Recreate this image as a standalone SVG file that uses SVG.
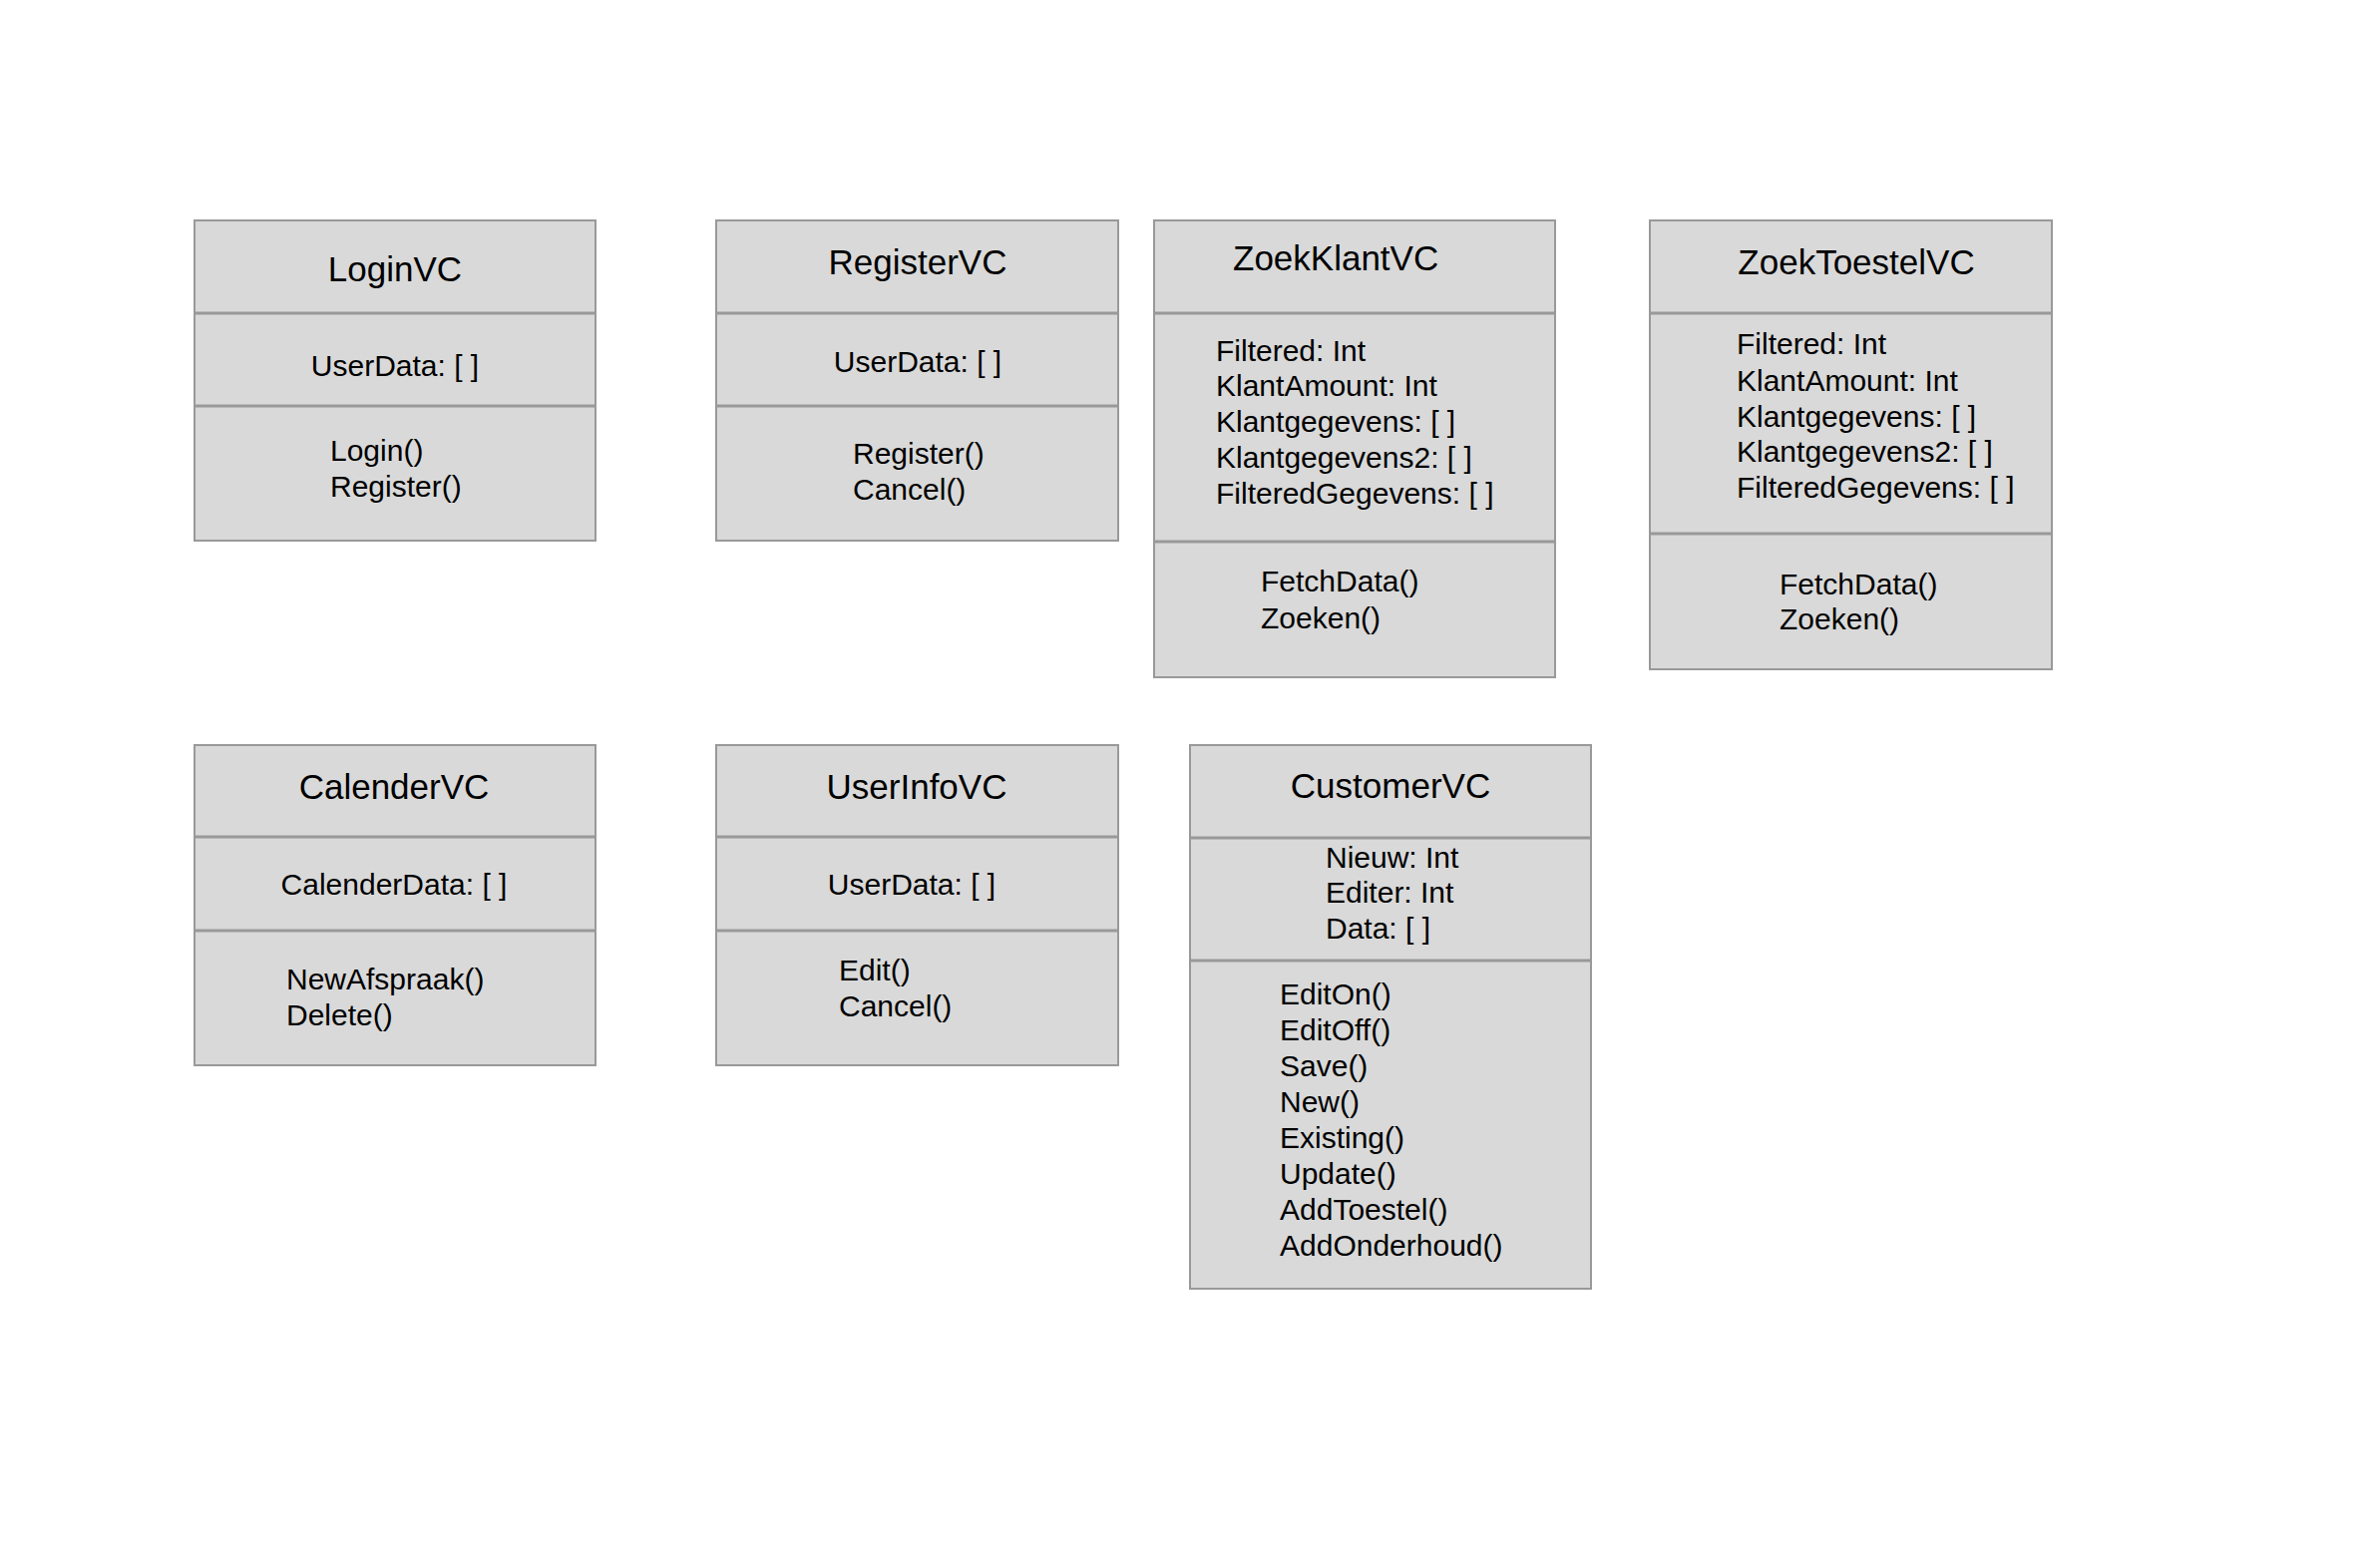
<svg xmlns="http://www.w3.org/2000/svg" width="2386" height="1564" viewBox="0 0 2386 1564">
<style>
.box{fill:#d9d9d9;stroke:#999999;stroke-width:2}
.div{stroke:#999999;stroke-width:3}
.t{font-family:"Liberation Sans",Arial,Helvetica,sans-serif;font-size:35px;fill:#000}
.b{font-family:"Liberation Sans",Arial,Helvetica,sans-serif;font-size:30px;fill:#000}
.c{text-anchor:middle}
</style>
<rect width="2386" height="1564" fill="#ffffff"/>
<g id="connectors"/>
<g id="LoginVC">
<rect class="box" x="195" y="221" width="402" height="321"/>
<line class="div" x1="195" y1="314" x2="597" y2="314"/>
<line class="div" x1="195" y1="407" x2="597" y2="407"/>
<text class="t c" x="396" y="282">LoginVC</text>
<text class="b c" x="396" y="377">UserData: [ ]</text>
<text class="b" x="331" y="462">Login()</text>
<text class="b" x="331" y="498">Register()</text>
</g>
<g id="RegisterVC">
<rect class="box" x="718" y="221" width="403" height="321"/>
<line class="div" x1="718" y1="314" x2="1121" y2="314"/>
<line class="div" x1="718" y1="407" x2="1121" y2="407"/>
<text class="t c" x="920" y="275">RegisterVC</text>
<text class="b c" x="920" y="373">UserData: [ ]</text>
<text class="b" x="855" y="465">Register()</text>
<text class="b" x="855" y="501">Cancel()</text>
</g>
<g id="ZoekKlantVC">
<rect class="box" x="1157" y="221" width="402" height="458"/>
<line class="div" x1="1157" y1="314" x2="1559" y2="314"/>
<line class="div" x1="1157" y1="543" x2="1559" y2="543"/>
<text class="t" x="1236" y="271">ZoekKlantVC</text>
<text class="b" x="1219" y="362">Filtered: Int</text>
<text class="b" x="1219" y="397">KlantAmount: Int</text>
<text class="b" x="1219" y="433">Klantgegevens: [ ]</text>
<text class="b" x="1219" y="469">Klantgegevens2: [ ]</text>
<text class="b" x="1219" y="505">FilteredGegevens: [ ]</text>
<text class="b" x="1264" y="593">FetchData()</text>
<text class="b" x="1264" y="630">Zoeken()</text>
</g>
<g id="ZoekToestelVC">
<rect class="box" x="1654" y="221" width="403" height="450"/>
<line class="div" x1="1654" y1="314" x2="2057" y2="314"/>
<line class="div" x1="1654" y1="535" x2="2057" y2="535"/>
<text class="t c" x="1861" y="275">ZoekToestelVC</text>
<text class="b" x="1741" y="355">Filtered: Int</text>
<text class="b" x="1741" y="392">KlantAmount: Int</text>
<text class="b" x="1741" y="428">Klantgegevens: [ ]</text>
<text class="b" x="1741" y="463">Klantgegevens2: [ ]</text>
<text class="b" x="1741" y="499">FilteredGegevens: [ ]</text>
<text class="b" x="1784" y="596">FetchData()</text>
<text class="b" x="1784" y="631">Zoeken()</text>
</g>
<g id="CalenderVC">
<rect class="box" x="195" y="747" width="402" height="321"/>
<line class="div" x1="195" y1="839" x2="597" y2="839"/>
<line class="div" x1="195" y1="933" x2="597" y2="933"/>
<text class="t c" x="395" y="801">CalenderVC</text>
<text class="b c" x="395" y="897">CalenderData: [ ]</text>
<text class="b" x="287" y="992">NewAfspraak()</text>
<text class="b" x="287" y="1028">Delete()</text>
</g>
<g id="UserInfoVC">
<rect class="box" x="718" y="747" width="403" height="321"/>
<line class="div" x1="718" y1="839" x2="1121" y2="839"/>
<line class="div" x1="718" y1="933" x2="1121" y2="933"/>
<text class="t c" x="919" y="801">UserInfoVC</text>
<text class="b c" x="914" y="897">UserData: [ ]</text>
<text class="b" x="841" y="983">Edit()</text>
<text class="b" x="841" y="1019">Cancel()</text>
</g>
<g id="CustomerVC">
<rect class="box" x="1193" y="747" width="402" height="545"/>
<line class="div" x1="1193" y1="840" x2="1595" y2="840"/>
<line class="div" x1="1193" y1="963" x2="1595" y2="963"/>
<text class="t c" x="1394" y="800">CustomerVC</text>
<text class="b" x="1329" y="870">Nieuw: Int</text>
<text class="b" x="1329" y="905">Editer: Int</text>
<text class="b" x="1329" y="941">Data: [ ]</text>
<text class="b" x="1283" y="1007">EditOn()</text>
<text class="b" x="1283" y="1043">EditOff()</text>
<text class="b" x="1283" y="1079">Save()</text>
<text class="b" x="1283" y="1115">New()</text>
<text class="b" x="1283" y="1151">Existing()</text>
<text class="b" x="1283" y="1187">Update()</text>
<text class="b" x="1283" y="1223">AddToestel()</text>
<text class="b" x="1283" y="1259">AddOnderhoud()</text>
</g>
</svg>
